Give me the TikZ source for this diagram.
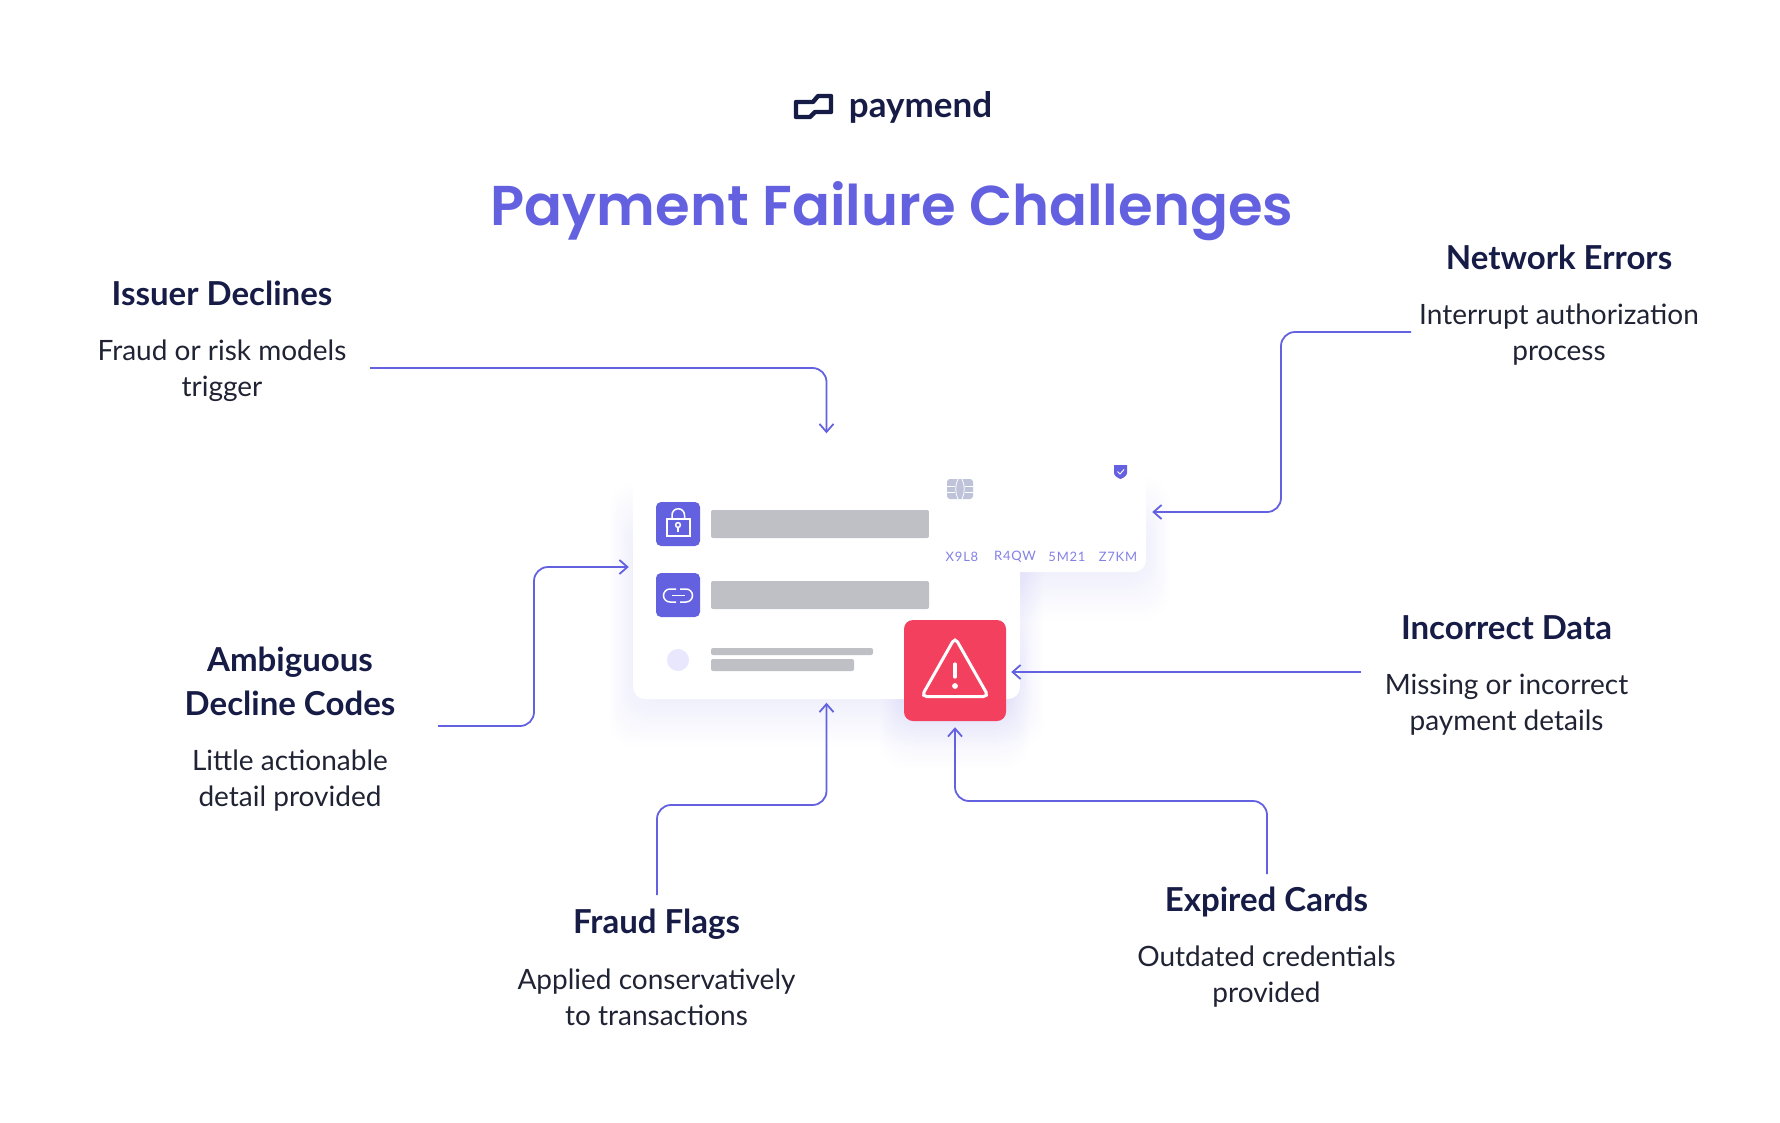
\documentclass[tikz,border=0pt]{standalone}
\usepackage{fontspec}
\setmainfont{Lato}
\newfontfamily\titlefont{Poppins SemiBold}
\newfontfamily\cardfont[LetterSpace=6]{Lato}
\usetikzlibrary{arrows.meta}
\definecolor{brand}{HTML}{6461E0}
\definecolor{navy}{HTML}{161C46}
\definecolor{ink}{HTML}{1F2333}
\definecolor{alertred}{HTML}{F4405F}
\definecolor{barcol}{HTML}{BEC0C5}
\definecolor{softcol}{HTML}{E8E7FD}
\definecolor{chipcol}{HTML}{BEC3D9}
\tikzset{
  head/.style={font=\fontsize{33}{44}\selectfont\bfseries,text=navy,align=center,inner sep=0pt},
  desc/.style={font=\fontsize{28}{36}\selectfont,text=ink,align=center,inner sep=0pt},
  conn/.style={draw=brand,line width=1.8pt,rounded corners=14pt,-{Straight Barb[length=8pt,width=14pt]}},
  bar/.style={fill=barcol,rounded corners=2pt},
  iconbox/.style={fill=brand,rounded corners=5pt},
  glyph/.style={draw=white,line width=1.5pt},
  cardnum/.style={font=\fontsize{13}{13}\selectfont\cardfont,text=brand!80,inner sep=0pt},
  glow/.style={fill=brand,opacity=0.005,rounded corners=26pt}
}
\begin{document}
\begin{tikzpicture}[x=1pt,y=-1pt]
\useasboundingbox (0,0) rectangle (1780,1122);

% logo
\draw[navy,line width=4.4pt,line join=round] (796,102) -- (813,102) -- (818,96) -- (831,96) -- (831,112) -- (815,112) -- (810,117) -- (796,117) -- cycle;
\node[font=\fontsize{35}{37}\selectfont\bfseries,text=navy,inner sep=0pt] (logo) at (920.5,107) {paymend};
\node[font=\fontsize{56.1}{58}\selectfont\titlefont,text=brand,inner sep=0pt] (title) at (892,211) {Payment Failure Challenges};

% soft shadows
\foreach \i in {1,...,24}{
  \fill[glow] (633-\i,530-\i*2) rectangle (1020+\i,699+\i*2);
  \fill[glow] (929-\i,525-\i*2) rectangle (1146+\i,572+\i*2);
  \fill[glow] (904-\i,670-\i*2) rectangle (1006+\i,721+\i*2);
}

% main panel
\node[fill=white,rounded corners=12pt,inner sep=0pt,minimum width=387pt,minimum height=251pt] (panel) at (826.5,573.5) {};
\fill[iconbox] (656,502) rectangle (700,546);
\fill[iconbox] (656,573) rectangle (700,617);
\fill[bar] (711,510) rectangle (929,538);
\fill[bar] (711,581) rectangle (929,609);
\fill[softcol] (678,660) circle (11);
\fill[bar] (711,648) rectangle (873,655);
\fill[bar] (711,659) rectangle (854,671);

% lock
\draw[glyph] (667,519) rectangle (690,536);
\draw[glyph] (672,519) -- (672,515) arc[start angle=180,end angle=360,radius=6.25] -- (684.5,519);
\draw[glyph] (678,525) circle (2.4);
\draw[glyph] (678,527.4) -- (678,532);
% link
\draw[glyph] (676,589) -- (670,589) arc[start angle=270,end angle=90,radius=6.5] -- (676,602);
\draw[glyph,rotate around={180:(678,595.5)}] (676,589) -- (670,589) arc[start angle=270,end angle=90,radius=6.5] -- (676,602);
\draw[glyph] (672,595.5) -- (685,595.5);

% card
\node[fill=white,rounded corners=12pt,inner sep=0pt,minimum width=217pt,minimum height=115pt] (card) at (1037.5,514.5) {};
\fill[chipcol,rounded corners=3pt] (947,479) rectangle (973,499);
\draw[white,line width=0.8pt] (947,486) -- (955,486) (947,492) -- (955,492) (965,486) -- (973,486) (965,492) -- (973,492);
\draw[white,line width=0.8pt] (958,479) .. controls (955,485) and (955,493) .. (958,499) (962,479) .. controls (965,485) and (965,493) .. (962,499);
\fill[brand] (1114,465) -- (1127,465) -- (1127,473) .. controls (1127,476) and (1123,478) .. (1120.5,479) .. controls (1118,478) and (1114,476) .. (1114,473) -- cycle;
\draw[white,line width=0.9pt] (1117.5,471.5) -- (1120,474) -- (1124,469.5);
\node[cardnum] (num1) at (962,557) {X9L8};
\node[cardnum] (num2) at (1015,557) {R4QW};
\node[cardnum] (num3) at (1067,557) {5M21};
\node[cardnum] (num4) at (1118,557) {Z7KM};

% alert
\node[fill=alertred,rounded corners=9pt,inner sep=0pt,minimum width=102pt,minimum height=101pt] (alert) at (955,670.5) {};
\draw[white,line width=3pt,rounded corners=5pt] (955,637.5) -- (988.5,696.5) -- (921.5,696.5) -- cycle;
\draw[white,line width=3.2pt,line cap=round] (955,664) -- (955,677);
\fill[white] (955,686) circle (2.9);

% labels
\node[head] (issuer) at (222,293) {Issuer Declines};
\node[desc] (issuertxt) at (222,371) {Fraud or risk models\\trigger};
\node[head] (network) at (1559,257) {Network Errors};
\node[desc] (networktxt) at (1559,335) {Interrupt authorization\\process};
\node[head] (ambig) at (290,681) {Ambiguous\\Decline Codes};
\node[desc] (ambigtxt) at (290,781) {Little actionable\\detail provided};
\node[head] (incorrect) at (1506.5,628) {Incorrect Data};
\node[desc] (incorrecttxt) at (1506.5,705) {Missing or incorrect\\payment details};
\node[head] (fraud) at (656.5,924) {Fraud Flags};
\node[desc] (fraudtxt) at (656.5,997) {Applied conservatively\\to transactions};
\node[head] (expired) at (1266.5,902) {Expired Cards};
\node[desc] (expiredtxt) at (1266.5,976.5) {Outdated credentials\\provided};

% connector free ends
\coordinate (issuerout) at (370,368);
\coordinate (networkout) at (1411,332);
\coordinate (ambigout) at (438,726);
\coordinate (incorrectout) at (1361,672);
\coordinate (fraudout) at (657,895);
\coordinate (expiredout) at (1267,874);

% connectors
\draw[conn] (issuerout) -| ([yshift=14.5pt]panel.north);
\draw[conn] (networkout) -- (1281,332) |- ([xshift=6pt,yshift=2.5pt]card.east);
\draw[conn] (ambigout) -- (534,726) |- ([xshift=-4pt,yshift=6.5pt]panel.west);
\draw[conn] (incorrectout) -- ([xshift=5pt,yshift=-1.5pt]alert.east);
\draw[conn] (fraudout) -- (657,805) -| ([yshift=-3.5pt]panel.south);
\draw[conn] (expiredout) -- (1267,801) -| ([yshift=-6pt]alert.south);
\end{tikzpicture}
\end{document}
